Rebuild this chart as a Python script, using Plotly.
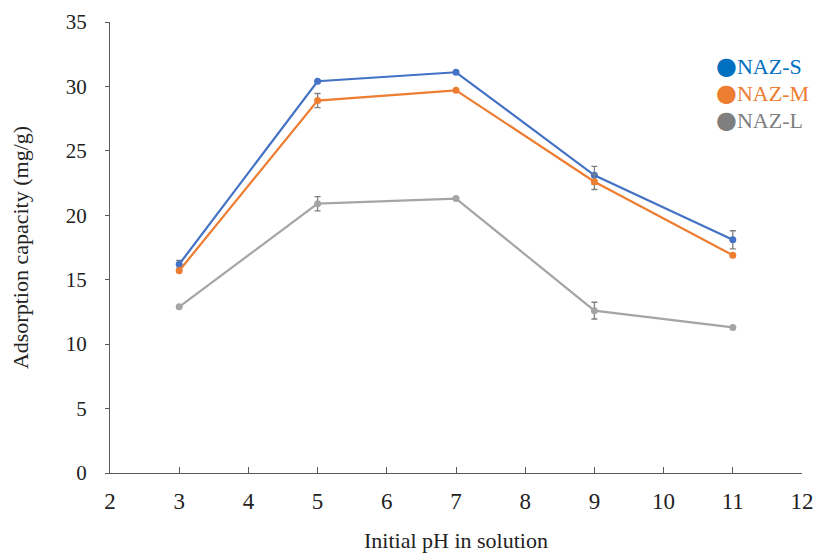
import plotly.graph_objects as go

# Initial pH values and adsorption capacities (mg/g)
ph = [3, 5, 7, 9, 11]
naz_s = [16.2, 30.4, 31.1, 23.1, 18.1]
naz_m = [15.7, 28.9, 29.7, 22.6, 16.9]
naz_l = [12.9, 20.9, 21.3, 12.6, 11.3]

# Standard deviations shown as error bars
err_s = [0.3, 0.0, 0.0, 0.7, 0.7]
err_m = [0.0, 0.55, 0.0, 0.6, 0.0]
err_l = [0.0, 0.55, 0.0, 0.65, 0.0]

series_names = ["NAZ-S", "NAZ-M", "NAZ-L"]
line_colors = ["#4472C4", "#ED7D31", "#A5A5A5"]
legend_colors = ["#0070C0", "#ED7D31", "#7F7F7F"]

FONT = "Liberation Serif"

fig = go.Figure()
for name, vals, err, col in zip(series_names, [naz_s, naz_m, naz_l],
                                [err_s, err_m, err_l], line_colors):
    fig.add_trace(go.Scatter(
        x=ph, y=vals, name=name, mode="lines+markers",
        line=dict(color=col, width=2.2),
        marker=dict(color=col, size=7),
        error_y=dict(type="data", array=err, visible=True,
                     color="#7F7F7F", thickness=1.3, width=3),
        showlegend=False,
    ))

# Legend drawn as coloured text entries at the upper right
legend_y = [0.902, 0.842, 0.782]
for name, col, yy in zip(series_names, legend_colors, legend_y):
    fig.add_annotation(
        xref="paper", yref="paper", x=0.873, y=yy,
        xanchor="left", yanchor="middle", showarrow=False,
        text=f"<span style='font-family:DejaVu Sans;font-size:24px'>●</span>{name}",
        font=dict(family=FONT, size=22, color=col),
    )

fig.update_layout(
    width=817, height=553,
    margin=dict(l=110, r=15, t=22, b=80, autoexpand=False),
    paper_bgcolor="white", plot_bgcolor="white",
    font=dict(family=FONT, size=22, color="#222222"),
    xaxis=dict(
        range=[2, 12], tickmode="linear", tick0=2, dtick=1,
        automargin=False,
        showgrid=False, zeroline=False,
        showline=True, linecolor="#595959", linewidth=1.3,
        ticks="inside", ticklen=6, tickcolor="#595959", tickwidth=1.3,
        ticklabelstandoff=7,
        title=dict(text="Initial pH in solution", standoff=22,
                   font=dict(family=FONT, size=22)),
        tickfont=dict(family=FONT, size=23),
    ),
    yaxis=dict(
        range=[0, 35], tickmode="linear", tick0=0, dtick=5,
        automargin=False,
        showgrid=False, zeroline=False,
        showline=True, linecolor="#595959", linewidth=1.3,
        ticks="outside", ticklen=4, tickcolor="#595959", tickwidth=1.3,
        ticklabelstandoff=14,
        title=dict(text="Adsorption capacity (mg/g)", standoff=30,
                   font=dict(family=FONT, size=22)),
        tickfont=dict(family=FONT, size=21),
    ),
)

fig.write_html("out.html")
